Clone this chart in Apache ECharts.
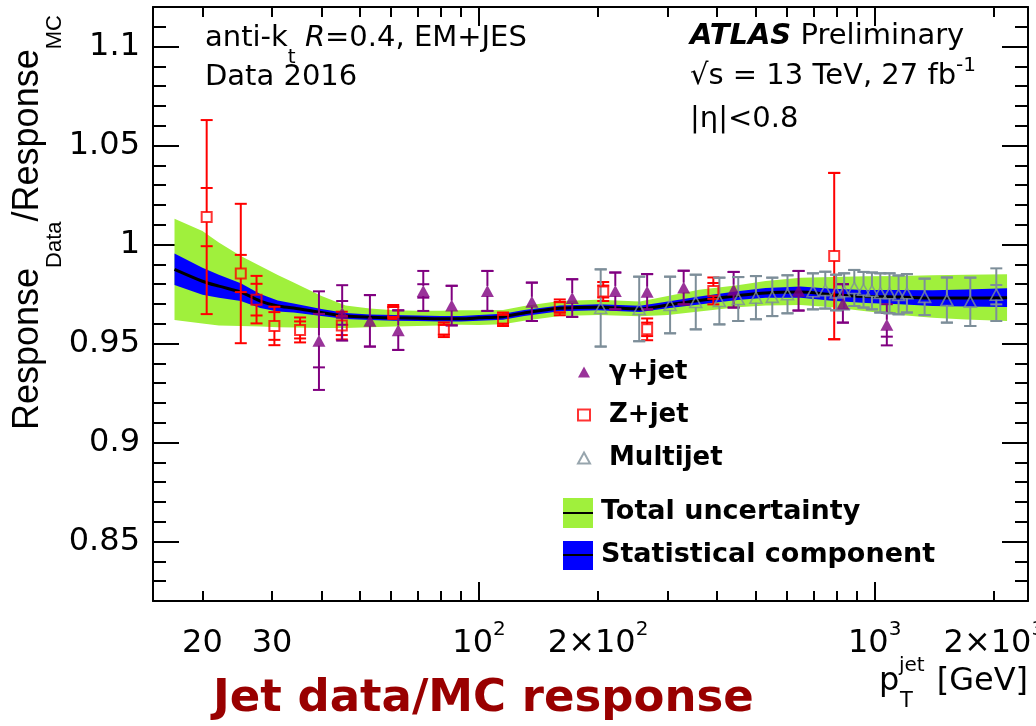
<!DOCTYPE html>
<html><head><meta charset="utf-8">
<script src="https://cdn.jsdelivr.net/npm/echarts@6/dist/echarts.min.js"></script>
<style>html,body{margin:0;padding:0;background:#fff}#c{width:1036px;height:726px}</style>
</head><body><div id="c"></div>
<script>
// ---- axis ranges & ticks ----
const xRange = [15, 2440];
const yRange = [0.82, 1.12];
const xMinorTicks = [20, 30, 40, 50, 60, 70, 80, 90, 200, 300, 400, 500, 600, 700, 800, 900, 2000];
const xMajorTicks = [100, 1000];
const xLabelVals = [20, 30, 100, 200, 1000, 2000];
const yLabelVals = [0.85, 0.9, 0.95, 1, 1.05, 1.1];

// ---- calibration bands ----
const bandPt  = [17, 20, 22, 25, 28, 31, 34, 40, 46, 53, 61, 70, 80, 90, 100, 115, 130, 160, 200, 255, 300, 360, 450, 530, 650, 780, 950, 1160, 1400, 1700, 2160];
const central = [0.9875, 0.9815, 0.9790, 0.9760, 0.9715, 0.9690, 0.9680, 0.9657, 0.9639, 0.9633, 0.9630, 0.9628, 0.9626, 0.9626, 0.9630, 0.9636, 0.9655, 0.9678, 0.9684, 0.9675, 0.9695, 0.9718, 0.9742, 0.9756, 0.9760, 0.9747, 0.9738, 0.9735, 0.9730, 0.9730, 0.9732];
const totHi   = [1.0131, 1.0069, 1.0010, 0.9942, 0.9892, 0.9847, 0.9808, 0.9740, 0.9693, 0.9677, 0.9668, 0.9666, 0.9666, 0.9668, 0.9668, 0.9670, 0.9690, 0.9715, 0.9722, 0.9712, 0.9740, 0.9772, 0.9795, 0.9816, 0.9833, 0.9836, 0.9840, 0.9841, 0.9845, 0.9848, 0.9850];
const totLo   = [0.9619, 0.9601, 0.9592, 0.9589, 0.9586, 0.9582, 0.9581, 0.9579, 0.9579, 0.9582, 0.9586, 0.9589, 0.9592, 0.9595, 0.9594, 0.9598, 0.9615, 0.9640, 0.9645, 0.9638, 0.9645, 0.9662, 0.9684, 0.9692, 0.9695, 0.9683, 0.9664, 0.9645, 0.9631, 0.9622, 0.9614];
const statHi  = [0.9955, 0.9883, 0.9848, 0.9805, 0.9750, 0.9718, 0.9703, 0.9675, 0.9654, 0.9647, 0.9644, 0.9642, 0.9640, 0.9640, 0.9645, 0.9651, 0.9670, 0.9693, 0.9699, 0.9691, 0.9712, 0.9738, 0.9764, 0.9781, 0.9788, 0.9777, 0.9771, 0.9771, 0.9770, 0.9773, 0.9779];
const statLo  = [0.9796, 0.9747, 0.9732, 0.9715, 0.9680, 0.9662, 0.9657, 0.9639, 0.9624, 0.9619, 0.9616, 0.9614, 0.9612, 0.9612, 0.9615, 0.9621, 0.9640, 0.9663, 0.9669, 0.9659, 0.9678, 0.9698, 0.9720, 0.9731, 0.9732, 0.9717, 0.9705, 0.9699, 0.9690, 0.9687, 0.9685];

// ---- in-situ measurements ----
const zPt   = [20.5, 25.0, 27.4, 30.4, 35.3, 45.0, 60.7, 81.5, 115, 160, 206, 266, 391, 790];
const zVal  = [1.0139, 0.9854, 0.9722, 0.9589, 0.9569, 0.9591, 0.9660, 0.9570, 0.9623, 0.9683, 0.9763, 0.9572, 0.9766, 0.9942];
const zStat = [0.0147, 0.0094, 0.0080, 0.0070, 0.0043, 0.0048, 0.0025, 0.0025, 0.0022, 0.0027, 0.0030, 0.0034, 0.0040, 0.0420];
const zTot  = [0.0490, 0.0352, 0.0120, 0.0097, 0.0063, 0.0070, 0.0035, 0.0037, 0.0034, 0.0040, 0.0048, 0.0055, 0.0068, 0.0420];

const gPt   = [39.4, 45.1, 53.0, 62.5, 72.3, 85.3, 105, 136, 172, 221, 266, 329, 440, 642, 831, 1073];
const gVal  = [0.9515, 0.9655, 0.9615, 0.9568, 0.9766, 0.9692, 0.9766, 0.9711, 0.9730, 0.9766, 0.9762, 0.9783, 0.9772, 0.9767, 0.9703, 0.9595];
const gStat = [0.0135, 0.0060, 0.0130, 0.0100, 0.0034, 0.0100, 0.0101, 0.0097, 0.0095, 0.0093, 0.0089, 0.0085, 0.0090, 0.0100, 0.0097, 0.0060];
const gTot  = [0.0249, 0.0140, 0.0130, 0.0100, 0.0101, 0.0100, 0.0101, 0.0097, 0.0095, 0.0093, 0.0089, 0.0085, 0.0090, 0.0100, 0.0097, 0.0104];

const mPt   = [203, 254, 304, 353, 405, 452, 501, 551, 602, 698, 750, 799, 837, 888, 937, 984, 1033, 1090, 1149, 1206, 1337, 1522, 1744, 2029];
const mVal  = [0.9680, 0.9675, 0.9695, 0.9710, 0.9715, 0.9725, 0.9732, 0.9736, 0.9749, 0.9764, 0.9770, 0.9758, 0.9764, 0.9781, 0.9772, 0.9766, 0.9756, 0.9754, 0.9746, 0.9754, 0.9736, 0.9720, 0.9711, 0.9747];
const mStat = [0.0195, 0.0163, 0.0143, 0.0138, 0.0118, 0.0111, 0.0109, 0.0097, 0.0096, 0.0091, 0.0093, 0.0090, 0.0091, 0.0091, 0.0090, 0.0093, 0.0099, 0.0101, 0.0098, 0.0097, 0.0092, 0.0114, 0.0122, 0.0049];
const mTot  = [0.0195, 0.0163, 0.0143, 0.0138, 0.0118, 0.0111, 0.0109, 0.0097, 0.0096, 0.0091, 0.0093, 0.0090, 0.0091, 0.0091, 0.0090, 0.0093, 0.0099, 0.0101, 0.0098, 0.0097, 0.0092, 0.0114, 0.0122, 0.0133];

// ---- style ----
const C_GREEN = '#a0f03c', C_BLUE = '#0000ff', C_PURPLE = '#800080', C_RED = '#ff0000', C_GRAY = '#7d8e99';
const F = 'DejaVu Sans';

const chart = echarts.init(document.getElementById('c'), null, {renderer: 'canvas'});

function pairs(xs, ys) { return xs.map((x, i) => [x, ys[i]]); }

function bandSeries(pts, lo, hi, color, z) {
  return {
    type: 'custom', z: z, silent: true, xAxisIndex: 0, yAxisIndex: 0,
    data: pts.map((p, i) => [p, lo[i], hi[i]]),
    encode: {x: 0, y: [1, 2]},
    renderItem: function (params, api) {
      if (params.dataIndex !== 0) return null;
      const up = pts.map((p, i) => api.coord([p, hi[i]]));
      const dn = pts.map((p, i) => api.coord([p, lo[i]])).reverse();
      return {type: 'polygon', shape: {points: up.concat(dn)}, style: {fill: color, stroke: null}};
    }
  };
}

function errSeries(pts, vals, stats, tots, color, gap, z) {
  return {
    type: 'custom', z: z, silent: true, xAxisIndex: 0, yAxisIndex: 0,
    data: pts.map((p, i) => [p, vals[i], stats[i], tots[i]]),
    encode: {x: 0, y: 1},
    renderItem: function (params, api) {
      const x = api.value(0), v = api.value(1), s = api.value(2), t = api.value(3);
      const c = api.coord([x, v]);
      const yt = api.coord([x, v + t])[1], yb = api.coord([x, v - t])[1];
      const ys1 = api.coord([x, v + s])[1], ys2 = api.coord([x, v - s])[1];
      const hw = 6, st = {stroke: color, lineWidth: 2};
      const ch = [];
      if (c[1] - yt > gap) ch.push({type: 'line', shape: {x1: c[0], y1: yt, x2: c[0], y2: c[1] - gap}, style: st});
      if (yb - c[1] > gap) ch.push({type: 'line', shape: {x1: c[0], y1: c[1] + gap, x2: c[0], y2: yb}, style: st});
      [yt, yb, ys1, ys2].forEach(yy => ch.push({type: 'line', shape: {x1: c[0] - hw, y1: yy, x2: c[0] + hw, y2: yy}, style: st}));
      return {type: 'group', children: ch};
    }
  };
}

function xFmt(v) {
  if (v < 100) return '{a|' + v + '}';
  const e = Math.floor(Math.log10(v) + 1e-9);
  const m = Math.round(v / Math.pow(10, e));
  return (m === 1 ? '{a|10}' : '{a|' + m + '×10}') + '{p|' + e + '}';
}

const axLine = {show: true, lineStyle: {color: '#000', width: 2}};
const noLine = {show: false};
function xAx(pos, ticks, len, labels, line) {
  return {
    type: 'log', position: pos, min: xRange[0], max: xRange[1], logBase: 10,
    axisLine: line ? axLine : noLine,
    axisTick: {show: true, inside: true, length: len, customValues: ticks, lineStyle: {color: '#000', width: 2}},
    axisLabel: labels ? {
      show: true, customValues: labels, formatter: xFmt, margin: 19, hideOverlap: false,
      rich: {
        a: {fontFamily: F, fontSize: 32, color: '#000', lineHeight: 40, verticalAlign: 'bottom'},
        p: {fontFamily: F, fontSize: 20, color: '#000', verticalAlign: 'top'}
      }
    } : {show: false},
    splitLine: {show: false}, minorTick: {show: false}
  };
}
function yAx(pos, major, labels) {
  const base = {
    type: 'value', position: pos, min: yRange[0], max: yRange[1],
    splitLine: {show: false}
  };
  if (major) {
    base.axisLine = axLine;
    base.axisTick = {show: true, inside: true, length: 26, customValues: yLabelVals, lineStyle: {color: '#000', width: 2}};
    base.axisLabel = labels ? {show: true, customValues: yLabelVals, formatter: v => String(v), margin: 13,
      fontFamily: F, fontSize: 32, color: '#000'} : {show: false};
  } else {
    base.interval = 0.01;
    base.axisLine = noLine;
    base.axisTick = {show: true, inside: true, length: 13, lineStyle: {color: '#000', width: 2}};
    base.axisLabel = {show: false};
  }
  return base;
}

const legendText = {fontFamily: F, fontWeight: 'bold', fontSize: 26, color: '#000', padding: [0, 0, 0, 14], lineHeight: 30};

function txt(id, x, y, text, opts) {
  return {type: 'text', id: id, x: x, y: y, silent: true, z: 50,
    style: Object.assign({text: text, fill: '#000', fontFamily: F, fontSize: 29,
      align: 'left', textAlign: 'left', verticalAlign: 'middle', textVerticalAlign: 'middle'}, opts || {})};
}

const option = {
  animation: false,
  backgroundColor: '#fff',
  grid: {left: 153, right: 8, top: 7, bottom: 125, containLabel: false, outerBoundsMode: 'none'},
  xAxis: [
    xAx('bottom', xMinorTicks, 10, xLabelVals, true),
    xAx('bottom', xMajorTicks, 19, null, false),
    xAx('top', xMinorTicks, 10, null, true),
    xAx('top', xMajorTicks, 19, null, false)
  ],
  yAxis: [yAx('left', true, true), yAx('left', false), yAx('right', true, false), yAx('right', false)],
  legend: [{
    data: ['γ+jet', 'Z+jet', 'Multijet'], orient: 'vertical', left: 572, top: 352,
    itemWidth: 12, itemHeight: 11, itemGap: 13, selectedMode: false, textStyle: legendText
  }],
  series: [
    bandSeries(bandPt, totLo, totHi, C_GREEN, 1),
    bandSeries(bandPt, statLo, statHi, C_BLUE, 2),
    {type: 'line', name: 'central', data: pairs(bandPt, central), symbol: 'none', smooth: 0.3, lineStyle: {color: '#000', width: 3}, z: 3, silent: true},
    errSeries(zPt, zVal, zStat, zTot, C_RED, 5, 4),
    errSeries(gPt, gVal, gStat, gTot, C_PURPLE, 5, 4),
    errSeries(mPt, mVal, mStat, mTot, C_GRAY, 5, 4),
    {type: 'scatter', name: 'Z+jet', data: pairs(zPt, zVal), symbol: 'rect', symbolSize: [10, 10], z: 5, silent: true,
      itemStyle: {color: 'rgba(255,255,255,0)', borderColor: C_RED, borderWidth: 2}},
    {type: 'scatter', name: 'γ+jet', data: pairs(gPt, gVal), symbol: 'triangle', symbolSize: [13, 12], z: 5, silent: true,
      itemStyle: {color: C_PURPLE}},
    {type: 'scatter', name: 'Multijet', data: pairs(mPt, mVal), symbol: 'triangle', symbolSize: [12, 11], z: 5, silent: true,
      itemStyle: {color: 'rgba(255,255,255,0)', borderColor: C_GRAY, borderWidth: 1.6}}
  ],
  graphic: [
    {type: 'rect', id: 'lgG', x: 563, y: 498, shape: {x: 0, y: 0, width: 30, height: 30}, style: {fill: C_GREEN}, silent: true, z: 50},
    {type: 'line', id: 'lgGl', shape: {x1: 563, y1: 513, x2: 593, y2: 513}, style: {stroke: '#000', lineWidth: 2}, silent: true, z: 51},
    {type: 'rect', id: 'lgB', x: 563, y: 541, shape: {x: 0, y: 0, width: 30, height: 29}, style: {fill: C_BLUE}, silent: true, z: 50},
    {type: 'line', id: 'lgBl', shape: {x1: 563, y1: 555, x2: 593, y2: 555}, style: {stroke: '#000', lineWidth: 2}, silent: true, z: 51},
    txt('t1', 601, 512, 'Total uncertainty', {fontWeight: 'bold', fontSize: 27}),
    txt('t2', 601, 555, 'Statistical component', {fontWeight: 'bold', fontSize: 27}),
    txt('a1', 205, 24, '{a|anti-k}{s|t}{a| }{i|R}{a|=0.4, EM+JES}', {verticalAlign: 'top', textVerticalAlign: 'top',
      rich: {a: {fontFamily: F, fontSize: 29, fill: '#000', lineHeight: 44, verticalAlign: 'top'},
             i: {fontFamily: F, fontSize: 29, fontStyle: 'italic', fill: '#000', lineHeight: 44, verticalAlign: 'top'},
             s: {fontFamily: F, fontSize: 20, fill: '#000', lineHeight: 44, verticalAlign: 'bottom'}}}),
    txt('a2', 205, 77, 'Data 2016'),
    txt('a3', 690, 36, '{b|ATLAS}{a| Preliminary}', {rich: {
      b: {fontFamily: F, fontSize: 29, fontWeight: 'bold', fontStyle: 'italic', fill: '#000'},
      a: {fontFamily: F, fontSize: 29, fill: '#000'}}}),
    txt('a4', 690, 56, '{a|√s = 13 TeV, 27 fb}{p|-1}', {verticalAlign: 'top', textVerticalAlign: 'top', rich: {
      a: {fontFamily: F, fontSize: 29, fill: '#000', lineHeight: 35, verticalAlign: 'bottom'},
      p: {fontFamily: F, fontSize: 20, fill: '#000', lineHeight: 35, verticalAlign: 'top'}}}),
    txt('a5', 690, 119, '|η|<0.8'),
    txt('x1', 879, 682, 'p', {fontSize: 32}),
    txt('x2', 899, 666, 'jet', {fontSize: 20}),
    txt('x3', 900, 702, 'T', {fontSize: 21}),
    txt('x4', 1028, 682, '[GeV]', {fontSize: 32, align: 'right', textAlign: 'right'}),
    Object.assign(txt('y1', 10, 430, '{m|Response}{s|Data}{m|/Response}{s|MC}', {verticalAlign: 'top', textVerticalAlign: 'top', rich: {
      m: {fontFamily: 'Liberation Sans', fontSize: 36, fill: '#000', lineHeight: 56, verticalAlign: 'top'},
      s: {fontFamily: 'Liberation Sans', fontSize: 22, fill: '#000', lineHeight: 56, verticalAlign: 'bottom'}}}), {rotation: Math.PI / 2}),
    txt('b1', 213, 699, 'Jet data/MC response', {fontSize: 45, fontWeight: 'bold', fill: '#990000'})
  ]
};
chart.setOption(option);
</script></body></html>
